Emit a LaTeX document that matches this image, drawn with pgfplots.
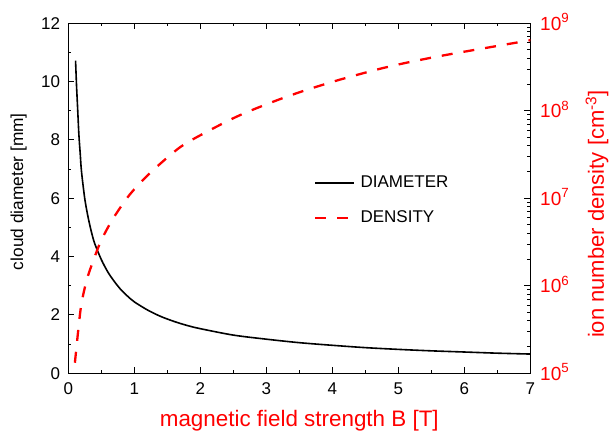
\documentclass[border=0pt]{standalone}
\usepackage{fontspec}
\setmainfont{Liberation Sans}
\usepackage{pgfplots}
\pgfplotsset{compat=1.18}

\begin{document}
\begin{tikzpicture}
\pgfplotsset{
  frame/.style={width=462bp, height=350bp, scale only axis,
    xmin=0, xmax=7,
    tick align=inside, major tick length=6bp, minor tick length=3bp,
    tick style={black, line width=1bp},
    axis line style={line width=1.5bp},
    /pgf/number format/assume math mode=true},
}
% left axis: cloud diameter
\begin{axis}[frame,
  ymin=0, ymax=12,
  xtick={0,1,...,7}, ytick={0,2,...,12},
  minor x tick num=1, minor y tick num=1,
  xtick pos=both, ytick pos=left,
  tick label style={font=\fontsize{17bp}{20bp}\selectfont},
  xticklabel style={inner sep=0pt, yshift=-9.5bp},
  yticklabel style={inner sep=0pt, xshift=-8bp},
  xlabel={magnetic field strength B [T]},
  xlabel style={red, font=\fontsize{22.4bp}{26bp}\selectfont,
    at={(axis description cs:0.5,-0.1534)}, anchor=base},
  ylabel={cloud diameter [mm]},
  ylabel style={font=\fontsize{17.3bp}{20bp}\selectfont,
    at={(axis description cs:-0.098,0.519)}, anchor=base, rotate=0},
]
\addplot[black, line width=1.6bp, smooth] coordinates {
(0.11,10.72) (0.125,9.85) (0.14,9.15) (0.16,8.2) (0.18,7.55) (0.2,6.92)
(0.25,5.98) (0.3,5.35) (0.35,4.85) (0.4,4.45) (0.5,3.9) (0.6,3.47)
(0.7,3.14) (0.8,2.86) (0.9,2.64) (1.0,2.45) (1.2,2.17) (1.4,1.95)
(1.6,1.78) (1.8,1.64) (2.0,1.53) (2.5,1.31) (3.0,1.17) (3.5,1.05)
(4.0,0.96) (4.5,0.88) (5.0,0.82) (5.5,0.77) (6.0,0.73) (6.5,0.69)
(7.0,0.66)
};
\end{axis}
% right axis: ion number density
\begin{axis}[frame,
  ymode=log, ymin=1e5, ymax=1e9,
  axis y line*=right, axis x line=none,
  ytick={1e5,1e6,1e7,1e8,1e9},
  yticklabels={10\textsuperscript{5},10\textsuperscript{6},10\textsuperscript{7},10\textsuperscript{8},10\textsuperscript{9}},
  yticklabel style={red, font=\fontsize{19bp}{22bp}\selectfont,
    anchor=base west, inner sep=0pt, xshift=9.7bp, yshift=-6.8bp},
  ylabel={ion number density [cm\textsuperscript{-3}]},
  ylabel style={red, font=\fontsize{22bp}{26bp}\selectfont,
    at={(axis description cs:1.1595,0.455)}, anchor=base, rotate=0},
  legend image code/.code={\draw[#1] (0bp,0bp) -- (39bp,0bp);},
  legend cell align=left,
  legend style={at={(axis description cs:0.532,0.5637)}, anchor=north west,
    draw=none, fill=none, inner sep=0pt, row sep=21.7bp, column sep=5bp,
    nodes={inner sep=0pt},
    font=\fontsize{17bp}{20bp}\selectfont},
]
\addlegendimage{black, line width=1.6bp}
\addlegendentry{DIAMETER}
\addplot[red, line width=2.3bp, dash pattern=on 11bp off 11bp, smooth] coordinates {
(0.10,1.32e5) (0.156,3.39e5) (0.2,6.3e5) (0.28,1.17e6) (0.38,1.95e6)
(0.5,3.31e6) (0.68,5.89e6) (0.93,1.10e7) (1.24,1.95e7) (1.67,3.72e7)
(2.0,5.25e7) (2.6,8.91e7) (3.31,1.45e8) (4.0,2.14e8) (4.67,2.95e8)
(5.13,3.55e8) (5.74,4.37e8) (6.95,6.31e8) (7.0,6.4e8)
};
\addlegendentry{DENSITY}
\end{axis}
\pgfresetboundingbox
\path (-68.3bp,-60.7bp) rectangle (542.7bp,373.3bp);
\end{tikzpicture}
\end{document}
